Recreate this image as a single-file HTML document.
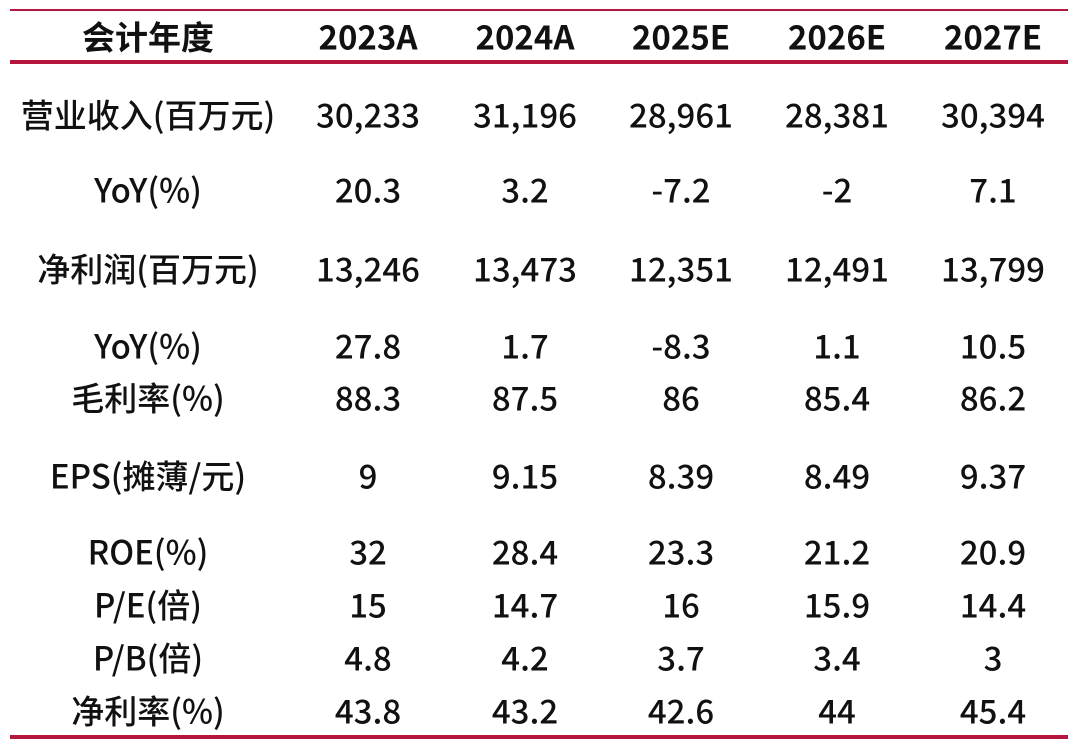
<!DOCTYPE html>
<html><head><meta charset="utf-8"><style>
body{margin:0;width:1080px;height:748px;background:#fff;position:relative;overflow:hidden;font-family:"Noto Sans CJK SC","Liberation Sans",sans-serif;color:#111}
.l{position:absolute;left:10px;width:1058px;background:#b5163d}
.c{position:absolute;transform:translate(-50%,-50%);white-space:nowrap;font-size:33px;font-weight:500;line-height:1}
.h{font-weight:bold;font-size:33px}
</style></head><body>
<div class="l" style="top:9px;height:2px"></div>
<div class="l" style="top:60px;height:4px"></div>
<div class="l" style="top:735px;height:4px"></div>
<div id="t"></div>
<script>
var xs=[148,368,525,681,837,993];
var rows=[[36,["会计年度","2023A","2024A","2025E","2026E","2027E"]],
[114,["营业收入(百万元)","30,233","31,196","28,961","28,381","30,394"]],
[189,["YoY(%)","20.3","3.2","-7.2","-2","7.1"]],
[268,["净利润(百万元)","13,246","13,473","12,351","12,491","13,799"]],
[345,["YoY(%)","27.8","1.7","-8.3","1.1","10.5"]],
[397,["毛利率(%)","88.3","87.5","86","85.4","86.2"]],
[475,["EPS(摊薄/元)","9","9.15","8.39","8.49","9.37"]],
[551,["ROE(%)","32","28.4","23.3","21.2","20.9"]],
[604,["P/E(倍)","15","14.7","16","15.9","14.4"]],
[657,["P/B(倍)","4.8","4.2","3.7","3.4","3"]],
[710,["净利率(%)","43.8","43.2","42.6","44","45.4"]]];
var h="";rows.forEach(function(r,i){r[1].forEach(function(t,j){h+='<div class="c'+(i==0?' h':'')+'" style="left:'+xs[j]+'px;top:'+r[0]+'px">'+t+'</div>';});});
document.getElementById("t").innerHTML=h;
</script>
</body></html>
